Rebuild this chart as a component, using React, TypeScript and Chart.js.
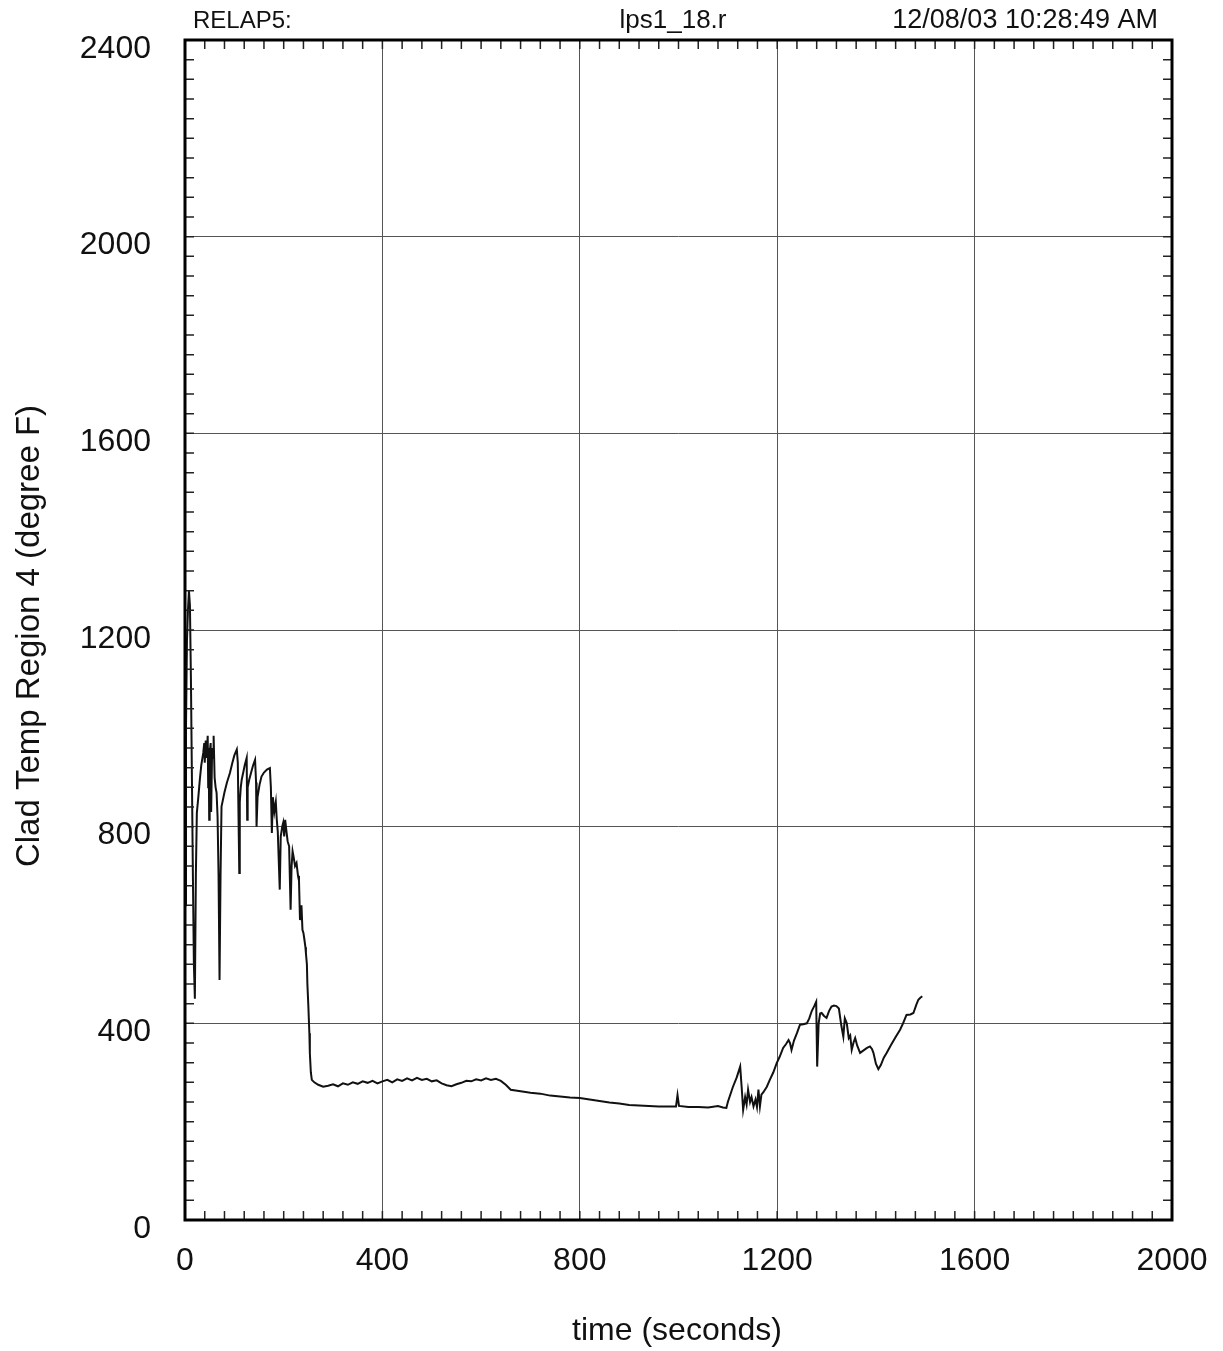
import React, { useEffect, useRef } from "react";
import { Chart, registerables } from "chart.js";

Chart.register(...registerables);

// Clad temperature history, region 4 (time in s, temperature in degree F)
const timeSec: number[] = [
  0, 2, 4, 6, 8, 10, 12, 14, 16, 18, 20,
  22, 24, 27, 30, 33, 37, 39, 40, 42, 44, 46, 47, 48, 49, 50, 52, 53, 55, 57, 58, 60, 62, 64, 66, 68, 70, 72, 74,
  80, 85, 91, 96, 100, 105, 107, 109, 110, 111, 113, 115, 118, 121, 125, 126, 127, 130, 134, 138, 142, 144, 145,
  147, 151, 155, 160, 166, 172, 174, 176, 178, 181, 184, 186, 188, 190, 192, 194, 197, 199, 201, 203, 206, 208,
  211, 214, 216, 218, 220, 223, 226, 229, 231, 233, 236, 238, 240, 242, 244, 245, 247, 248, 250, 252, 253, 255,
  257, 262, 270, 280,
  290, 300, 310, 320, 330, 340, 350, 360, 370, 380, 390, 400, 410, 420, 430, 440, 450, 460, 470, 480, 490, 500,
  510, 520, 530, 540, 550, 560, 570, 580, 590, 600, 610, 620, 630, 640, 650, 660, 680, 700, 720, 740, 760, 780,
  800, 820, 840, 860, 880, 900, 920, 940, 960, 980, 995, 998, 1001, 1020, 1040, 1060, 1080, 1090, 1097,
  1100, 1110, 1118, 1125, 1128, 1131, 1135, 1138, 1141, 1145, 1148, 1152, 1156, 1159, 1162, 1165, 1168, 1172,
  1179, 1185, 1192, 1199, 1205, 1212, 1218, 1223, 1226, 1229, 1234, 1240, 1246, 1253, 1260, 1265, 1270, 1275,
  1279, 1281, 1284, 1287, 1290, 1295, 1300, 1305, 1310, 1315, 1320, 1325, 1330, 1334, 1337, 1341, 1345, 1348,
  1351, 1355, 1358, 1362, 1368, 1375, 1382, 1388, 1392, 1395, 1400, 1405, 1410, 1416, 1422, 1430, 1440, 1449,
  1455, 1462, 1470, 1476, 1482, 1486, 1490, 1494,
];

const cladTempF: number[] = [
  640, 1000, 1180, 1240, 1280, 1250, 1100, 900, 700, 520, 450,
  700, 828, 860, 895, 925, 950, 970, 930, 975, 940, 985, 880, 960, 814, 950, 970, 830, 960, 940, 985, 900, 880, 869, 820, 700, 488, 700, 841,
  870, 890, 909, 930, 945, 957, 930, 780, 706, 850, 880, 896, 910, 925, 940, 814, 880, 895, 910, 925, 936, 890, 800,
  860, 885, 902, 910, 916, 919, 880, 787, 860, 830, 850, 814, 790, 730, 672, 780, 800, 808, 780, 814, 787, 770,
  760, 631, 720, 750, 739, 720, 726, 700, 690, 610, 640, 590, 584, 570, 555, 543, 520, 480, 434, 380, 339, 300,
  285, 280, 275, 271,
  273, 276, 272, 278, 275, 280, 277, 282, 279, 283, 278, 282, 285, 280, 286, 283, 288, 284, 289, 285, 287, 282,
  284, 278, 274, 272, 276, 279, 283, 282, 286, 284, 288, 285, 287, 283, 275, 265, 262, 259, 257, 253, 251, 249,
  248, 245, 242, 239, 237, 234, 233, 232, 231, 231, 231, 254, 232, 230, 230, 229, 232, 229, 228,
  240, 270, 290, 312, 270, 224, 250, 235, 265, 240, 250, 231, 245, 230, 265, 231, 255, 260,
  271, 285, 300, 319, 332, 350, 358, 366, 360, 346, 365, 380, 397, 398, 400, 410, 425, 435,
  444, 312, 400, 420, 421, 415, 411, 425, 434, 436, 435, 430, 395, 373, 410, 400, 370, 375,
  346, 362, 370, 355, 340, 345, 350, 353, 348, 340, 318, 307, 315, 330, 340, 355, 372, 387,
  400, 417, 418, 421, 438, 448, 452, 455,
];

const xTicks: number[] = [0, 400, 800, 1200, 1600, 2000];
const yTicks: number[] = [0, 400, 800, 1200, 1600, 2000, 2400];
const minorStep = 40;

const headerLeft = "RELAP5:";
const headerCenter = "lps1_18.r";
const headerRight = "12/08/03 10:28:49 AM";
const xTitle = "time (seconds)";
const yTitle = "Clad Temp Region 4 (degree F)";

const FONT = "'Liberation Sans', Arial, Helvetica, sans-serif";

const framePlugin = {
  id: "frame",
  afterDraw(chart: any) {
    const { ctx, chartArea, scales } = chart;
    const { left, right, top, bottom } = chartArea;
    const xs = scales.x;
    const ys = scales.y;
    ctx.save();
    // inward minor ticks on all four sides
    ctx.strokeStyle = "#222";
    ctx.lineWidth = 1.5;
    const len = 9;
    ctx.beginPath();
    for (let v = minorStep; v < xs.max; v += minorStep) {
      const px = xs.getPixelForValue(v);
      ctx.moveTo(px, bottom);
      ctx.lineTo(px, bottom - len);
      ctx.moveTo(px, top);
      ctx.lineTo(px, top + len);
    }
    for (let v = minorStep; v < ys.max; v += minorStep) {
      const py = ys.getPixelForValue(v);
      ctx.moveTo(left, py);
      ctx.lineTo(left + len, py);
      ctx.moveTo(right, py);
      ctx.lineTo(right - len, py);
    }
    ctx.stroke();
    // frame
    ctx.strokeStyle = "#000";
    ctx.lineWidth = 3;
    ctx.strokeRect(left, top, right - left, bottom - top);

    // header line
    ctx.fillStyle = "#111";
    ctx.textBaseline = "alphabetic";
    ctx.textAlign = "left";
    ctx.font = `24px ${FONT}`;
    ctx.fillText(headerLeft, 193, 28);
    ctx.font = `26px ${FONT}`;
    ctx.textAlign = "center";
    ctx.fillText(headerCenter, 673, 28);
    ctx.font = `27px ${FONT}`;
    ctx.textAlign = "right";
    ctx.fillText(headerRight, 1158, 28);

    // axis titles
    ctx.font = `32px ${FONT}`;
    ctx.textAlign = "center";
    ctx.textBaseline = "middle";
    ctx.fillText(xTitle, 677, 1331);
    ctx.translate(30, 636);
    ctx.rotate(-Math.PI / 2);
    ctx.font = `33px ${FONT}`;
    ctx.fillText(yTitle, 0, 0);
    ctx.restore();
  },
};

const plainLabel = (v: any) => String(v);

export default function App() {
  const canvasRef = useRef<HTMLCanvasElement | null>(null);

  useEffect(() => {
    const canvas = canvasRef.current;
    if (!canvas) return;
    const points = timeSec.map((t, i) => ({ x: t, y: cladTempF[i] }));
    const chart = new Chart(canvas, {
      type: "line",
      data: {
        datasets: [
          {
            data: points,
            borderColor: "#111",
            borderWidth: 2,
            pointRadius: 0,
            tension: 0,
            fill: false,
          },
        ],
      },
      options: {
        responsive: false,
        animation: false,
        events: [],
        layout: { padding: { top: 40, right: 51, left: 0, bottom: 0 } },
        plugins: {
          legend: { display: false },
          tooltip: { enabled: false },
        },
        scales: {
          x: {
            type: "linear",
            min: 0,
            max: 2000,
            afterBuildTicks: (s: any) => {
              s.ticks = xTicks.map((v) => ({ value: v }));
            },
            afterFit: (s: any) => {
              s.height = 131;
              s.paddingLeft = 0;
              s.paddingRight = 0;
              s.paddingTop = 0;
              s.paddingBottom = 0;
            },
            ticks: {
              font: { size: 32, family: FONT },
              color: "#111",
              padding: 22,
              maxRotation: 0,
              autoSkip: false,
              callback: plainLabel,
            },
            grid: { color: "#555", lineWidth: 1, drawTicks: false },
            border: { display: false },
          },
          y: {
            type: "linear",
            min: 0,
            max: 2400,
            afterBuildTicks: (s: any) => {
              s.ticks = yTicks.map((v) => ({ value: v }));
            },
            afterFit: (s: any) => {
              s.width = 185;
              s.paddingLeft = 0;
              s.paddingRight = 0;
              s.paddingTop = 0;
              s.paddingBottom = 0;
            },
            ticks: {
              font: { size: 32, family: FONT },
              color: "#111",
              padding: 34,
              labelOffset: 9,
              autoSkip: false,
              callback: plainLabel,
            },
            grid: { color: "#555", lineWidth: 1, drawTicks: false },
            border: { display: false },
          },
        },
      },
      plugins: [framePlugin],
    });
    return () => chart.destroy();
  }, []);

  return (
    <div style={{ position: "absolute", left: 0, top: 0, width: 1223, height: 1351, background: "#fff" }}>
      <canvas ref={canvasRef} width={1223} height={1351} style={{ display: "block" }} />
    </div>
  );
}
